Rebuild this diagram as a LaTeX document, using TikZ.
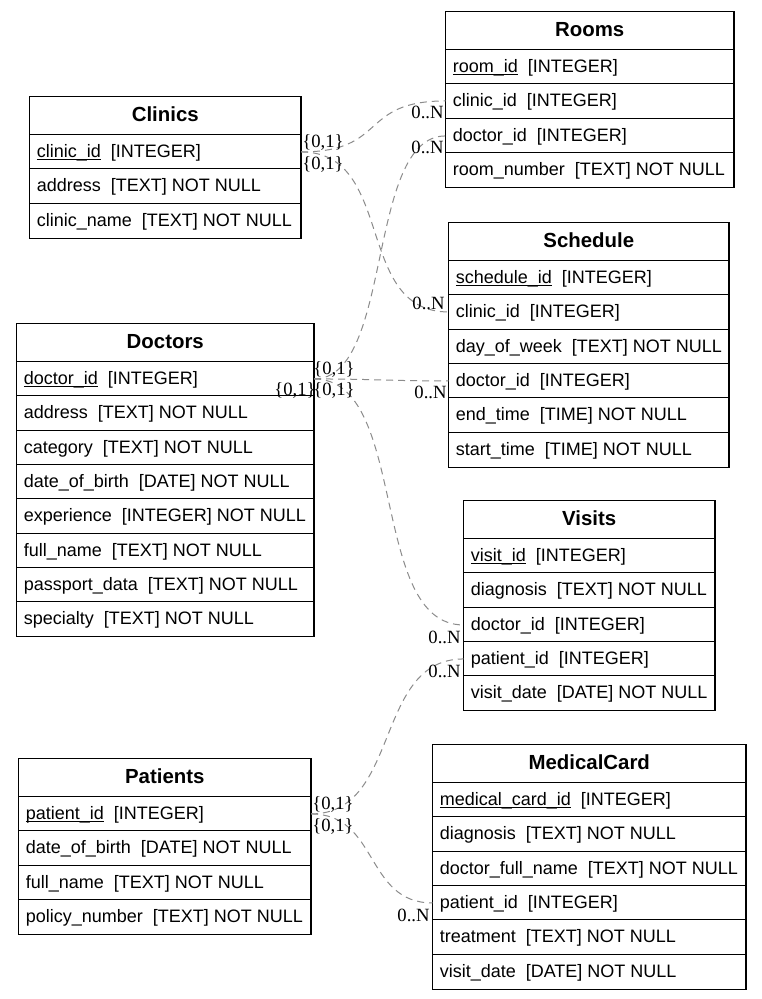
\documentclass[tikz,border=0pt]{standalone}
\usepackage{fontspec}
\setmainfont{Liberation Sans}
\newfontfamily\cardfont{Liberation Serif}

% primary-key field: a thin rule just under the baseline
\newcommand\pk[1]{\setbox0\hbox{#1}\rlap{\rule[-1.5pt]{\wd0}{0.7pt}}\box0}
\newcommand\sep{\ \ }

% table: #1 id, #2 left x, #3 top y, #4 width, #5 title, #6 rows
\newcommand\dbtable[6]{%
  \node[headbox, minimum width=#4*0.75pt] (#1) at ({#2+0.5},{#3+0.5}) {};
  \node[headtext] (#1-title) at ([yshift=-19.1pt]#1.north) {#5};
  \foreach \txt [count=\i] in {#6} {
    \node[rowbox, minimum width=#4*0.75pt] (#1-\i) at ({#2+0.5},{#3+38+round((\i-1)*34.35)+0.5}) {};
    \node[rowtext] (#1-\i-t) at ([xshift=5.25pt,yshift=-17.6pt]#1-\i.north west) {\txt};
    \draw[tblline] (#1-\i.north west) -- (#1-\i.north east);
    \xdef\lastrow{#1-\i}
  }
  \draw[tblline] (#1.north west) rectangle (\lastrow.south east);
}

\begin{document}
\begin{tikzpicture}[x=0.75pt,y=-0.75pt,
  tblline/.style={draw=black, line width=0.85pt},
  headbox/.style={anchor=north west, inner sep=0pt, minimum height=28.5pt},
  rowbox/.style={anchor=north west, inner sep=0pt, minimum height=25.7625pt},
  headtext/.style={anchor=base, inner sep=0pt, font=\fontsize{15.3}{18}\selectfont\bfseries},
  rowtext/.style={anchor=base west, inner sep=0pt, font=\fontsize{13.5}{16}\selectfont},
  rel/.style={draw=black!45, line width=0.75pt, dash pattern=on 5.25pt off 3.75pt},
  card/.style={inner sep=0pt, font=\cardfont\fontsize{14}{16}\selectfont}]

\fill[white] (0,0) rectangle (761,999);
\useasboundingbox (0,0) rectangle (761,999);

\dbtable{clinics}{29}{96}{271}{Clinics}{
  {\pk{clinic\_id}\sep[INTEGER]},
  {address\sep[TEXT] NOT NULL},
  {clinic\_name\sep[TEXT] NOT NULL}}

\dbtable{rooms}{445}{11}{288}{Rooms}{
  {\pk{room\_id}\sep[INTEGER]},
  {clinic\_id\sep[INTEGER]},
  {doctor\_id\sep[INTEGER]},
  {room\_number\sep[TEXT] NOT NULL}}

\dbtable{schedule}{448}{222}{280}{Schedule}{
  {\pk{schedule\_id}\sep[INTEGER]},
  {clinic\_id\sep[INTEGER]},
  {day\_of\_week\sep[TEXT] NOT NULL},
  {doctor\_id\sep[INTEGER]},
  {end\_time\sep[TIME] NOT NULL},
  {start\_time\sep[TIME] NOT NULL}}

\dbtable{doctors}{16}{323}{297}{Doctors}{
  {\pk{doctor\_id}\sep[INTEGER]},
  {address\sep[TEXT] NOT NULL},
  {category\sep[TEXT] NOT NULL},
  {date\_of\_birth\sep[DATE] NOT NULL},
  {experience\sep[INTEGER] NOT NULL},
  {full\_name\sep[TEXT] NOT NULL},
  {passport\_data\sep[TEXT] NOT NULL},
  {specialty\sep[TEXT] NOT NULL}}

\dbtable{visits}{463}{500}{251}{Visits}{
  {\pk{visit\_id}\sep[INTEGER]},
  {diagnosis\sep[TEXT] NOT NULL},
  {doctor\_id\sep[INTEGER]},
  {patient\_id\sep[INTEGER]},
  {visit\_date\sep[DATE] NOT NULL}}

\dbtable{patients}{18}{758}{292}{Patients}{
  {\pk{patient\_id}\sep[INTEGER]},
  {date\_of\_birth\sep[DATE] NOT NULL},
  {full\_name\sep[TEXT] NOT NULL},
  {policy\_number\sep[TEXT] NOT NULL}}

\dbtable{medicalcard}{432}{744}{313}{MedicalCard}{
  {\pk{medical\_card\_id}\sep[INTEGER]},
  {diagnosis\sep[TEXT] NOT NULL},
  {doctor\_full\_name\sep[TEXT] NOT NULL},
  {patient\_id\sep[INTEGER]},
  {treatment\sep[TEXT] NOT NULL},
  {visit\_date\sep[DATE] NOT NULL}}

% foreign-key relationships
\draw[rel] (clinics-1.east) .. controls +(87,0) and +(-87,0) .. (rooms-2.west);
\draw[rel] (clinics-1.east) .. controls +(95,0) and +(-95,0) .. (schedule-2.west);
\draw[rel] (doctors-1.east) .. controls +(80,0) and +(-80,0) .. (rooms-3.west);
\draw[rel] (doctors-1.east) .. controls +(60,0) and +(-60,0) .. (schedule-4.west);
\draw[rel] (doctors-1.east) .. controls +(95,0) and +(-95,0) .. (visits-3.west);
\draw[rel] (patients-1.east) .. controls +(90,0) and +(-90,0) .. (visits-4.west);
\draw[rel] (patients-1.east) .. controls +(68,0) and +(-68,0) .. (medicalcard-4.west);

% cardinalities, parent side
\node[card] (c-cl-a) at ([shift={(22,-9.5)}]clinics-1.east) {\{0,1\}};
\node[card] (c-cl-b) at ([shift={(22,12.5)}]clinics-1.east) {\{0,1\}};
\node[card] (c-dr-a) at ([shift={(20,-9)}]doctors-1.east) {\{0,1\}};
\node[card] (c-dr-b) at ([shift={(20,12)}]doctors-1.east) {\{0,1\}};
\node[card] (c-dr-c) at ([shift={(-19,12)}]doctors-1.east) {\{0,1\}};
\node[card] (c-pa-a) at ([shift={(22,-9)}]patients-1.east) {\{0,1\}};
\node[card] (c-pa-b) at ([shift={(22,13)}]patients-1.east) {\{0,1\}};

% cardinalities, child side
\node[card] (n-ro-1) at ([shift={(-18,11)}]rooms-2.west) {0..N};
\node[card] (n-ro-2) at ([shift={(-18,11)}]rooms-3.west) {0..N};
\node[card] (n-sc-1) at ([shift={(-20,-9)}]schedule-2.west) {0..N};
\node[card] (n-sc-2) at ([shift={(-18,11)}]schedule-4.west) {0..N};
\node[card] (n-vi-1) at ([shift={(-19,12)}]visits-3.west) {0..N};
\node[card] (n-vi-2) at ([shift={(-19,12)}]visits-4.west) {0..N};
\node[card] (n-mc-1) at ([shift={(-19,12)}]medicalcard-4.west) {0..N};

\end{tikzpicture}
\end{document}
